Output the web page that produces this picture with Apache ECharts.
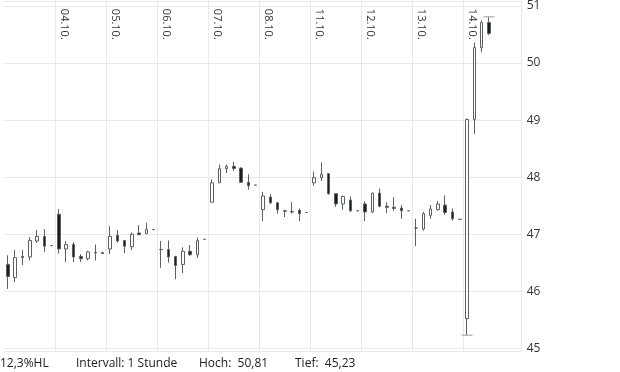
<!DOCTYPE html>
<html>
<head>
<meta charset="utf-8">
<script src="https://cdn.jsdelivr.net/npm/echarts@6/dist/echarts.min.js"></script>
<style>
html,body{margin:0;padding:0;background:#fff;}
#main{width:620px;height:372px;}
</style>
</head>
<body>
<div id="main"></div>
<script>
// Trading days and hourly slots
var days = ['03.10.','04.10.','05.10.','06.10.','07.10.','08.10.','11.10.','12.10.','13.10.','14.10.'];
var hours = ['09:00','10:00','11:00','12:00','13:00','14:00','15:00'];
var extraSlots = ['15.10. 09:00'];

// Candle values (one entry per hour)
var opens = [
  46.47,46.24,46.61,46.60,46.88,46.96,46.80,
  47.35,46.74,46.82,46.61,46.57,46.68,46.68,
  46.74,46.98,46.89,46.78,47.02,47.01,47.08,
  46.73,46.73,46.61,46.47,46.70,46.64,46.91,
  47.56,47.90,48.15,48.19,48.16,47.91,47.86,
  47.43,47.65,47.55,47.41,47.40,47.42,47.38,
  47.90,47.99,48.06,47.71,47.53,47.60,47.41,
  47.53,47.39,47.72,47.49,47.47,47.46,47.41,
  47.11,47.09,47.33,47.43,47.51,47.39,47.26,
  45.52,49.01,50.27,50.71
];
var closes = [
  46.26,46.59,46.59,46.89,46.96,46.79,46.80,
  46.74,46.82,46.60,46.57,46.69,46.67,46.66,
  46.96,46.88,46.79,47.00,46.99,47.08,47.08,
  46.73,46.60,46.45,46.70,46.64,46.89,46.91,
  47.90,48.15,48.19,48.15,47.91,47.85,47.86,
  47.67,47.55,47.43,47.40,47.39,47.36,47.38,
  47.99,48.05,47.71,47.53,47.66,47.41,47.41,
  47.39,47.72,47.49,47.47,47.45,47.41,47.41,
  47.11,47.36,47.44,47.53,47.38,47.27,47.26,
  49.01,50.27,50.71,50.52
];
var lows = [
  46.04,46.16,46.46,46.54,46.85,46.69,46.80,
  46.66,46.51,46.51,46.51,46.54,46.54,46.66,
  46.65,46.85,46.67,46.72,46.99,47.01,47.08,
  46.41,46.50,46.21,46.32,46.62,46.58,46.91,
  47.56,47.90,48.07,48.11,47.90,47.78,47.86,
  47.23,47.53,47.36,47.30,47.36,47.23,47.38,
  47.85,47.93,47.69,47.48,47.43,47.39,47.41,
  47.23,47.37,47.47,47.37,47.41,47.27,47.41,
  46.79,47.06,47.27,47.41,47.34,47.24,47.26,
  45.23,48.76,50.19,50.49
];
var highs = [
  46.63,46.72,46.72,46.95,47.07,47.09,46.80,
  47.44,46.88,46.86,46.65,46.71,46.82,46.68,
  47.14,47.07,46.89,47.03,47.16,47.20,47.08,
  46.88,46.89,46.62,46.77,46.81,46.94,46.91,
  47.96,48.22,48.22,48.27,48.17,48.05,47.86,
  47.74,47.70,47.56,47.43,47.56,47.45,47.38,
  48.10,48.26,48.07,47.72,47.68,47.66,47.41,
  47.58,47.73,47.80,47.56,47.65,47.51,47.41,
  47.27,47.39,47.51,47.58,47.68,47.45,47.26,
  49.03,50.36,50.75,50.81
];
var hoch = 50.81, tief = 45.23;
var infoTexts = ['12,3%HL', 'Intervall: 1 Stunde', 'Hoch:  50,81', 'Tief:  45,23'];

var categories = [];
days.forEach(function (d) { hours.forEach(function (h) { categories.push(d + ' ' + h); }); });
categories = categories.concat(extraSlots);

var candles = opens.map(function (o, i) { return [o, closes[i], lows[i], highs[i]]; });
var hiIdx = highs.indexOf(hoch), loIdx = lows.indexOf(tief);

function dayStart(index) {
  return index > 0 && index % hours.length === 0 && index < days.length * hours.length;
}

var FONT = 'Open Sans';
var chart = echarts.init(document.getElementById('main'), null, {renderer: 'canvas'});
chart.setOption({
  animation: false,
  backgroundColor: '#fff',
  textStyle: {fontFamily: FONT},
  grid: {left: 4.3, right: 98.3, top: 0, bottom: 20.3, containLabel: false},
  xAxis: {
    type: 'category',
    data: categories,
    position: 'top',
    boundaryGap: true,
    axisLine: {show: false},
    axisTick: {show: false},
    axisLabel: {
      inside: true,
      rotate: 90,
      interval: dayStart,
      margin: 8,
      fontSize: 11,
      fontFamily: FONT,
      color: '#333',
      verticalAlign: 'bottom',
      formatter: function (v) { return v.split(' ')[0]; }
    },
    splitLine: {show: true, interval: dayStart, lineStyle: {color: '#e8e8e8', width: 1}}
  },
  yAxis: {
    type: 'value',
    position: 'right',
    min: 44.94,
    max: 51.09,
    splitNumber: 6,
    axisLine: {show: true, lineStyle: {color: '#e8e8e8'}},
    axisTick: {show: false},
    axisLabel: {showMinLabel: false, showMaxLabel: false, margin: 5, fontSize: 12, fontFamily: FONT, color: '#333'},
    splitLine: {show: true, lineStyle: {color: '#e8e8e8', width: 1}}
  },
  series: [{
    type: 'candlestick',
    data: candles,
    barWidth: 3,
    itemStyle: {
      color: '#ffffff',
      color0: '#1c1c1c',
      borderColor: '#5b6065',
      borderColor0: '#5b6065',
      borderWidth: 1
    },
    markPoint: {
      symbol: 'rect',
      symbolSize: [11, 1],
      label: {show: false},
      itemStyle: {color: '#9a9a9a'},
      data: [
        {coord: [hiIdx, hoch]},
        {coord: [loIdx, tief]}
      ]
    }
  }],
  graphic: [
    {type: 'text', left: 0, top: 358, style: {text: infoTexts[0], fontSize: 12, fontFamily: FONT, fill: '#222'}},
    {type: 'text', left: 76, top: 358, style: {text: infoTexts[1], fontSize: 12, fontFamily: FONT, fill: '#222'}},
    {type: 'text', left: 199, top: 358, style: {text: infoTexts[2], fontSize: 12, fontFamily: FONT, fill: '#222'}},
    {type: 'text', left: 295, top: 358, style: {text: infoTexts[3], fontSize: 12, fontFamily: FONT, fill: '#222'}}
  ]
});
</script>
</body>
</html>
